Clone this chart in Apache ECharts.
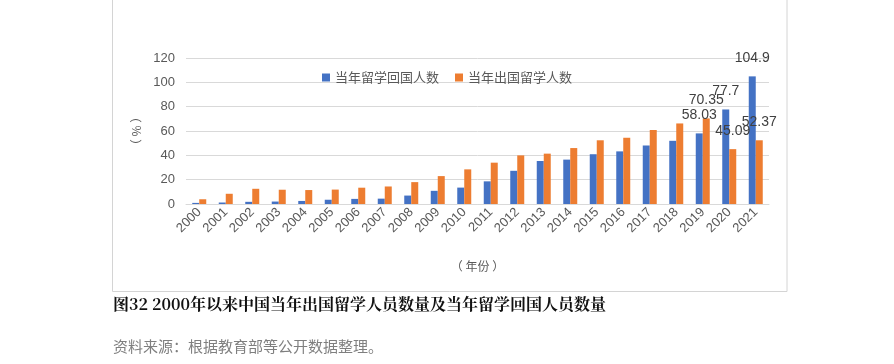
<!DOCTYPE html>
<html>
<head>
<meta charset="utf-8">
<style>
html,body{margin:0;padding:0;background:#fff;}
#chart{width:894px;height:364px;}
</style>
<script src="https://cdn.jsdelivr.net/npm/echarts@6/dist/echarts.min.js"></script>
</head>
<body>
<div id="chart"></div>
<script>
var years = ['2000','2001','2002','2003','2004','2005','2006','2007','2008','2009','2010','2011','2012','2013','2014','2015','2016','2017','2018','2019','2020','2021'];
var returnedValues = [0.91,1.22,1.79,2.01,2.51,3.50,4.20,4.40,6.93,10.83,13.48,18.62,27.29,35.35,36.48,40.91,43.25,48.09,51.94,58.03,77.7,104.9];
var outboundValues = [3.90,8.40,12.50,11.73,11.47,11.85,13.40,14.40,17.98,22.93,28.47,33.97,39.96,41.39,45.98,52.37,54.45,60.84,66.21,70.35,45.09,52.37];
var labeledYears = ['2019','2020','2021'];
var yTicks = [0,20,40,60,80,100,120];
var seriesNames = ['当年留学回国人数','当年出国留学人数'];
var titleText = '图32 2000年以来中国当年出国留学人员数量及当年留学回国人员数量';
var sourceText = '资料来源：根据教育部等公开数据整理。';

function buildData(values){
  return values.map(function(v,i){
    var show = labeledYears.indexOf(years[i]) >= 0;
    return {value:v, label:{show:show}};
  });
}

var FONT = '"Liberation Sans", Arial, "Noto Sans CJK SC", sans-serif';
var chart = echarts.init(document.getElementById('chart'), null, {renderer:'canvas'});
var labelStyle = {position:'top', distance:11, fontSize:14, color:'#404040', fontFamily:FONT};
chart.setOption({
  animation:false,
  backgroundColor:'#fff',
  textStyle:{fontFamily:FONT},
  legend:{
    data:seriesNames,
    left:'center', top:66,
    itemWidth:8, itemHeight:8, itemGap:16,
    icon:'rect',
    textStyle:{fontSize:13, color:'#595959', fontFamily:'"Noto Sans CJK SC", sans-serif'}
  },
  grid:{left:186, right:125, top:58, bottom:160},
  xAxis:{
    type:'category',
    data:years,
    name:'（ 年份 ）',
    nameLocation:'middle',
    nameGap:56,
    nameTextStyle:{fontSize:12, color:'#595959', fontFamily:'"Noto Sans CJK SC", sans-serif'},
    axisLine:{lineStyle:{color:'#d9d9d9'}},
    axisTick:{show:false},
    axisLabel:{rotate:45, fontSize:13, color:'#595959', margin:6, interval:0}
  },
  yAxis:{
    type:'value',
    min:yTicks[0], max:yTicks[yTicks.length-1], interval:yTicks[1]-yTicks[0],
    name:'（ % ）',
    nameLocation:'middle',
    nameRotate:90,
    nameGap:39,
    nameTextStyle:{fontSize:12, color:'#595959', fontFamily:'"Noto Sans CJK SC", sans-serif'},
    axisLine:{show:false},
    axisTick:{show:false},
    axisLabel:{fontSize:13, color:'#595959', margin:11},
    splitLine:{lineStyle:{color:'#d9d9d9'}}
  },
  series:[
    {name:seriesNames[0], type:'bar', data:buildData(returnedValues), barWidth:7, barGap:'0%', itemStyle:{color:'#4472C4'}, label:labelStyle},
    {name:seriesNames[1], type:'bar', data:buildData(outboundValues), barWidth:7, barGap:'0%', itemStyle:{color:'#ED7D31'}, label:labelStyle}
  ],
  graphic:[
    {type:'rect', shape:{x:112.5, y:-2, width:674.5, height:293.5}, style:{fill:null, stroke:'#d4d4d4', lineWidth:1}, silent:true, z:-1},
    {type:'text', left:113, top:296, style:{text:titleText, fontSize:16, fontWeight:'bold', fill:'#111', fontFamily:'"Noto Serif CJK SC","Noto Sans CJK SC", serif'}},
    {type:'text', left:113, top:339, style:{text:sourceText, fontSize:15, fill:'#7f7f7f', fontFamily:'"Noto Sans CJK SC", sans-serif'}}
  ]
});
</script>
</body>
</html>
